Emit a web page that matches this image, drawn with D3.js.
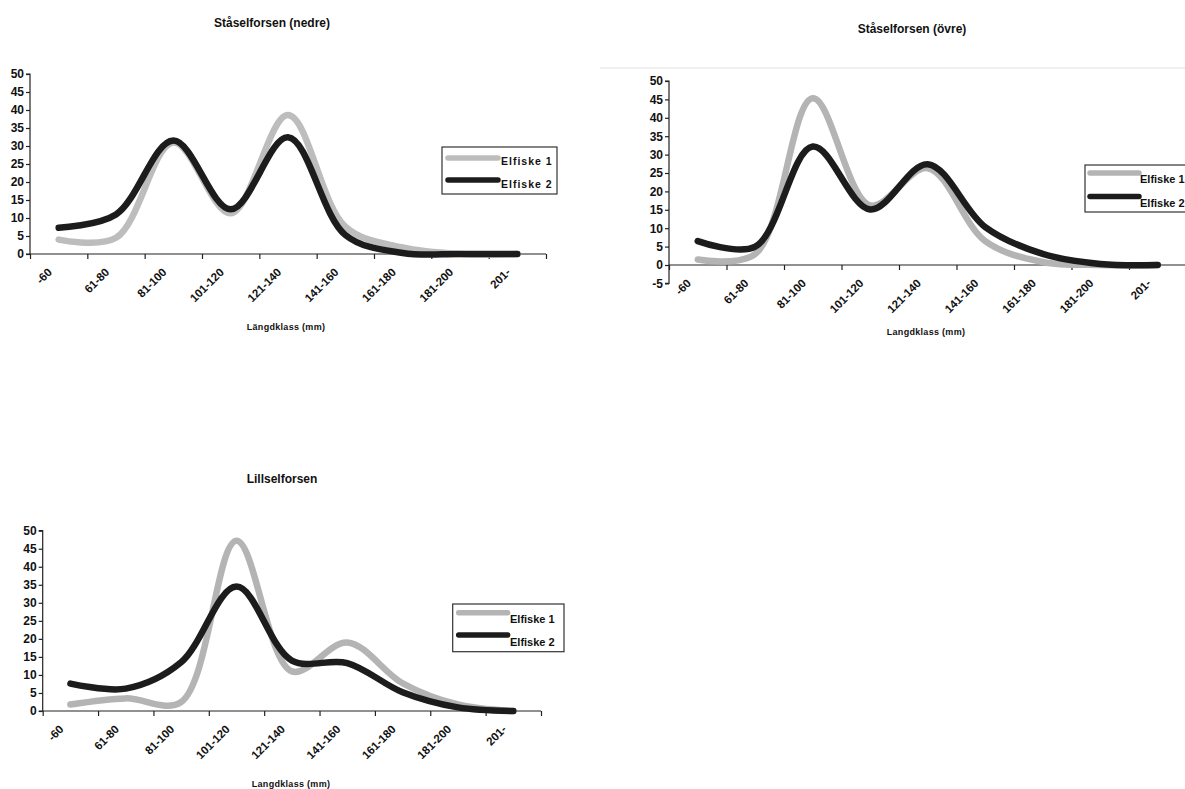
<!DOCTYPE html>
<html>
<head>
<meta charset="utf-8">
<script src="https://cdn.jsdelivr.net/npm/d3@7"></script>
<style>
  html, body { margin: 0; padding: 0; background: #fff; }
  svg { display: block; }
  text { font-family: "Liberation Sans", Arial, sans-serif; font-weight: bold; fill: #111; }
</style>
</head>
<body>
<svg id="chart" width="1185" height="789"></svg>
<script>
// ---------- data ----------
const categories = ["-60", "61-80", "81-100", "101-120", "121-140", "141-160", "161-180", "181-200", "201-"];
const seriesNames = ["Elfiske 1", "Elfiske 2"];

const nedreE1 = [4, 4.5, 31, 11.3, 38.6, 7.6, 1.8, 0, 0];
const nedreE2 = [7.3, 11, 31.5, 12.4, 32.4, 5.3, 0.3, 0, 0];

const ovreE1 = [1.5, 3, 45.3, 16.2, 26.3, 6.5, 0.8, 0, 0];
const ovreE2 = [6.5, 5, 32.2, 15.1, 27.4, 10.3, 3, 0.3, 0];

const lillE1 = [1.8, 3.5, 2.5, 47.2, 11, 19, 7.7, 1.8, 0];
const lillE2 = [7.6, 6.2, 13.5, 34.5, 14, 13.3, 5.2, 1, 0];

const yTicksA = [0, 5, 10, 15, 20, 25, 30, 35, 40, 45, 50];
const yTicksB = [-5, 0, 5, 10, 15, 20, 25, 30, 35, 40, 45, 50];

const titles = ["Ståselforsen (nedre)", "Ståselforsen (övre)", "Lillselforsen"];
const axisTitles = ["Längdklass (mm)", "Langdklass (mm)", "Langdklass (mm)"];

// ---------- drawing ----------
const svg = d3.select("#chart");
const GRAY = "#b4b4b4", BLACK = "#1c1c1c";

// faint scan edge line
svg.append("line").attr("x1", 600).attr("x2", 1185).attr("y1", 68).attr("y2", 68)
  .attr("stroke", "#f0f0f0").attr("stroke-width", 2);

function drawChart(c) {
  const g = svg.append("g");
  const x = d3.scaleBand().domain(categories).range([c.x0, c.x1]).padding(0);
  const xb = d3.scaleLinear().domain([0, categories.length]).range([c.x0, c.x1]);
  const pxPerUnit = (c.yZero - c.yTop) / 50;
  const y = d3.scaleLinear().domain([c.yMin, 50])
    .range([c.yZero + (-c.yMin) * pxPerUnit, c.yTop]);

  // title
  g.append("text").attr("x", c.titleX).attr("y", c.titleY).attr("text-anchor", "middle")
    .style("font-size", "12px").text(c.title);

  // y axis
  const ya = g.append("g").attr("transform", `translate(${c.x0},0)`)
    .call(d3.axisLeft(y).tickValues(c.yTicks).tickSize(4).tickPadding(2).tickFormat(d => String(d)));
  ya.select(".domain").attr("stroke", "#222").attr("stroke-width", 1.2).attr("d",
    `M-4,${y(c.yMin)}H0V${y(50)}H-4`);
  ya.selectAll(".tick line").attr("stroke", "#222").attr("stroke-width", 1.2);
  ya.selectAll(".tick text").style("font-size", "12px").attr("fill", "#111")
    .style("font-family", "'Liberation Sans', Arial, sans-serif").style("font-weight", "bold");

  // x axis (ticks at category boundaries)
  const xa = g.append("g").attr("transform", `translate(0,${y(0)})`)
    .call(d3.axisBottom(xb).tickValues(d3.range(0, categories.length + 1)).tickSize(5).tickFormat(""));
  xa.select(".domain").attr("stroke", "#222").attr("stroke-width", 1.2).attr("d",
    `M${c.x0},0H${c.x1}`);
  xa.selectAll(".tick line").attr("stroke", "#222").attr("stroke-width", 1.2);

  // category labels
  g.append("g").selectAll("text").data(categories).join("text")
    .attr("transform", d => `translate(${x(d) + x.bandwidth() / 2 - 6},${y(0) + 19}) rotate(-45)`)
    .attr("text-anchor", "end")
    .style("font-size", "11.5px")
    .text(d => d);

  // axis title
  g.append("text").attr("x", c.axisTitleX).attr("y", c.axisTitleY).attr("text-anchor", "middle")
    .style("font-size", "9px").style("letter-spacing", "0.3px").text(c.axisTitle);

  // lines
  const line = d3.line()
    .x((d, i) => x(categories[i]) + x.bandwidth() / 2)
    .y(d => y(d))
    .curve(d3.curveCatmullRom.alpha(0.5));
  g.append("path").datum(c.e1).attr("d", line).attr("fill", "none")
    .attr("stroke", c.grayColor || GRAY).attr("stroke-width", 6.5)
    .attr("stroke-linecap", "round").attr("stroke-linejoin", "round");
  g.append("path").datum(c.e2).attr("d", line).attr("fill", "none")
    .attr("stroke", BLACK).attr("stroke-width", 6.5)
    .attr("stroke-linecap", "round").attr("stroke-linejoin", "round");

  // legend
  const L = c.legend;
  const lg = g.append("g").attr("transform", `translate(${L.x},${L.y})`);
  lg.append("rect").attr("x", 0).attr("y", 0).attr("width", L.w).attr("height", L.h)
    .attr("fill", "#fff").attr("stroke", "#333").attr("stroke-width", 1.2);
  const cols = [c.grayColor || GRAY, BLACK];
  seriesNames.forEach((name, i) => {
    lg.append("line").attr("x1", L.lx0).attr("x2", L.lx1)
      .attr("y1", L.ly[i]).attr("y2", L.ly[i])
      .attr("stroke", cols[i]).attr("stroke-width", 5.5).attr("stroke-linecap", "round");
    lg.append("text").attr("x", L.tx).attr("y", L.ty[i])
      .style("font-size", L.fs + "px").style("letter-spacing", L.ls + "px").text(name);
  });
}

drawChart({
  title: titles[0], titleX: 272, titleY: 27,
  x0: 30, x1: 546, yTop: 74, yZero: 254, yMin: 0, yTicks: yTicksA,
  e1: nedreE1, e2: nedreE2, grayColor: "#bdbdbd",
  axisTitle: axisTitles[0], axisTitleX: 286, axisTitleY: 330,
  legend: { x: 442, y: 147, w: 115, h: 47, lx0: 6, lx1: 56, ly: [11, 33], tx: 59, ty: [18, 40.5], fs: 10.5, ls: 1 }
});

drawChart({
  title: titles[1], titleX: 912, titleY: 33,
  x0: 669, x1: 1186.5, yTop: 81, yZero: 265, yMin: -5, yTicks: yTicksB,
  e1: ovreE1, e2: ovreE2,
  axisTitle: axisTitles[1], axisTitleX: 926, axisTitleY: 335,
  legend: { x: 1085, y: 165, w: 110, h: 47, lx0: 5, lx1: 54, ly: [8, 31.5], tx: 55, ty: [18, 41.5], fs: 11, ls: 0 }
});

drawChart({
  title: titles[2], titleX: 282, titleY: 483,
  x0: 42.7, x1: 541, yTop: 530.7, yZero: 711, yMin: 0, yTicks: yTicksA,
  e1: lillE1, e2: lillE2,
  axisTitle: axisTitles[2], axisTitleX: 291, axisTitleY: 786.5,
  legend: { x: 452.7, y: 604, w: 111.3, h: 47.7, lx0: 6, lx1: 55, ly: [8.7, 31], tx: 57.3, ty: [19, 42], fs: 11, ls: 0 }
});
</script>
</body>
</html>
